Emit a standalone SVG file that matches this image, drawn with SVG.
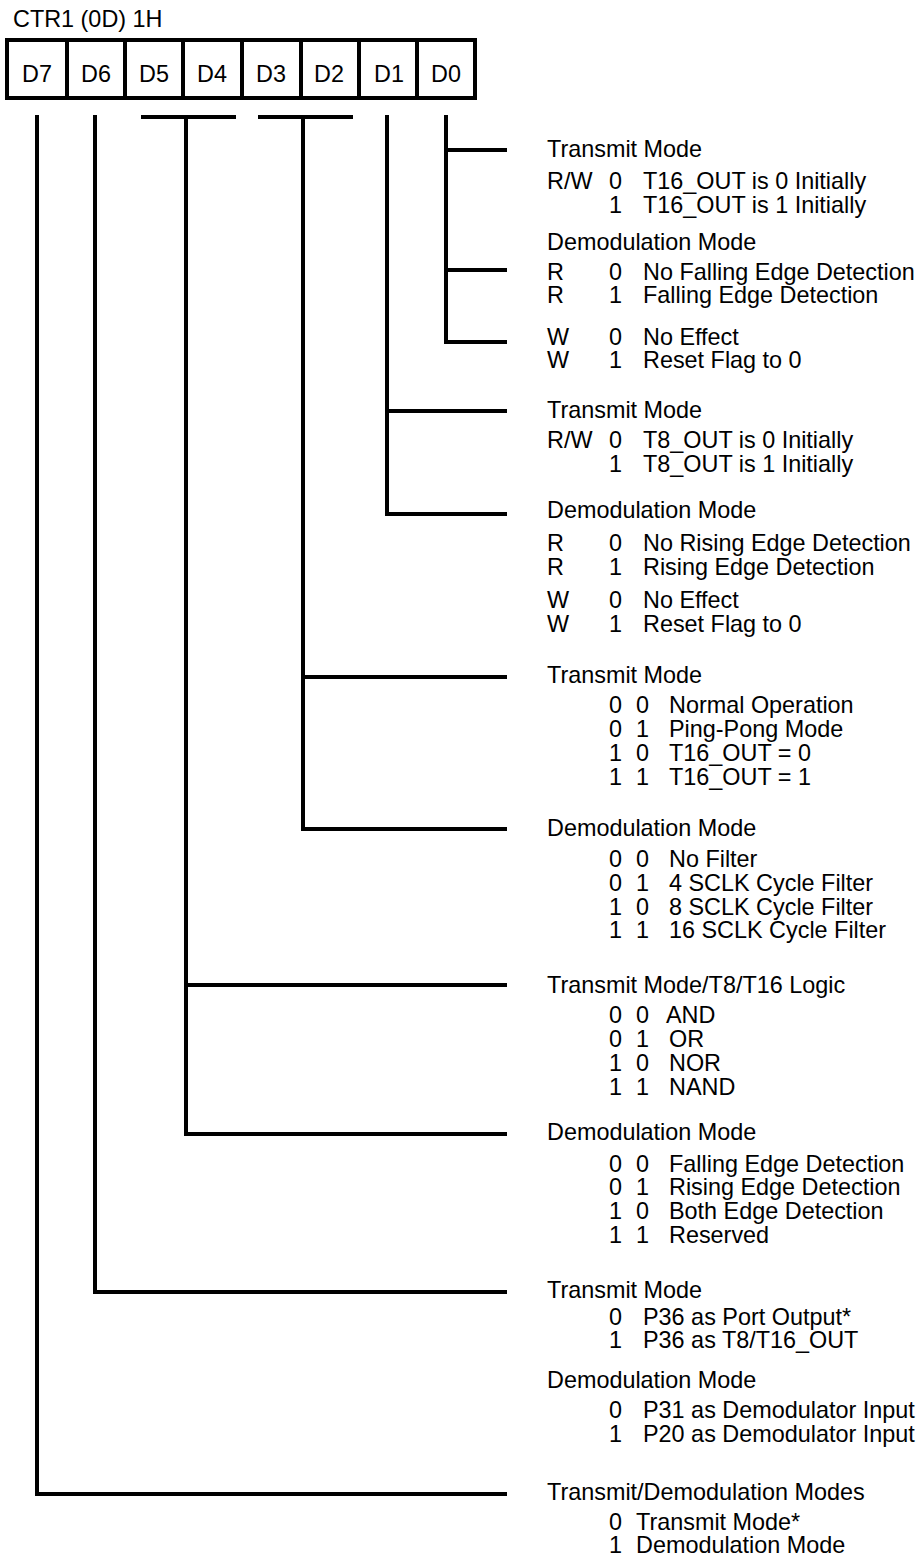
<svg xmlns="http://www.w3.org/2000/svg" width="924" height="1557" viewBox="0 0 924 1557">
<style>
text{font-family:"Liberation Sans",Arial,Helvetica,sans-serif;font-size:23.4px;fill:#000}
.c{text-anchor:middle}
.box{fill:#fff;stroke:#000;stroke-width:4}
.ln{fill:none;stroke:#000;stroke-width:4;stroke-linecap:butt;stroke-linejoin:miter}
</style>
<rect width="924" height="1557" fill="#fff"/>
<g id="title"><text x="13" y="27">CTR1 (0D) 1H</text></g>
<g id="register">
<rect class="box" x="7" y="40" width="468" height="58"/>
<path class="ln" d="M67 40V98M125 40V98M183 40V98M242 40V98M301 40V98M359 40V98M417 40V98"/>
<text class="c" x="37" y="82">D7</text>
<text class="c" x="96" y="82">D6</text>
<text class="c" x="154" y="82">D5</text>
<text class="c" x="212" y="82">D4</text>
<text class="c" x="271" y="82">D3</text>
<text class="c" x="329" y="82">D2</text>
<text class="c" x="389" y="82">D1</text>
<text class="c" x="446" y="82">D0</text>
</g>
<g id="connectors">
<path class="ln" d="M446 115V342H507M446 150H507M446 270H507"/>
<path class="ln" d="M387 115V514H507M387 411H507"/>
<path class="ln" d="M258 117H353M303 117V829H507M303 677H507"/>
<path class="ln" d="M141 117H236M186 117V1134H507M186 985H507"/>
<path class="ln" d="M95 115V1292H507"/>
<path class="ln" d="M37 115V1494H507"/>
</g>
<g id="d0">
<text x="547" y="157">Transmit Mode</text>
<text y="189"><tspan x="547">R/W</tspan><tspan x="609">0</tspan><tspan x="643">T16_OUT is 0 Initially</tspan></text>
<text y="213"><tspan x="609">1</tspan><tspan x="643">T16_OUT is 1 Initially</tspan></text>
<text x="547" y="250">Demodulation Mode</text>
<text y="280"><tspan x="547">R</tspan><tspan x="609">0</tspan><tspan x="643">No Falling Edge Detection</tspan></text>
<text y="303"><tspan x="547">R</tspan><tspan x="609">1</tspan><tspan x="643">Falling Edge Detection</tspan></text>
<text y="345"><tspan x="547">W</tspan><tspan x="609">0</tspan><tspan x="643">No Effect</tspan></text>
<text y="368"><tspan x="547">W</tspan><tspan x="609">1</tspan><tspan x="643">Reset Flag to 0</tspan></text>
</g>
<g id="d1">
<text x="547" y="418">Transmit Mode</text>
<text y="448"><tspan x="547">R/W</tspan><tspan x="609">0</tspan><tspan x="643">T8_OUT is 0 Initially</tspan></text>
<text y="472"><tspan x="609">1</tspan><tspan x="643">T8_OUT is 1 Initially</tspan></text>
<text x="547" y="518">Demodulation Mode</text>
<text y="551"><tspan x="547">R</tspan><tspan x="609">0</tspan><tspan x="643">No Rising Edge Detection</tspan></text>
<text y="575"><tspan x="547">R</tspan><tspan x="609">1</tspan><tspan x="643">Rising Edge Detection</tspan></text>
<text y="608"><tspan x="547">W</tspan><tspan x="609">0</tspan><tspan x="643">No Effect</tspan></text>
<text y="632"><tspan x="547">W</tspan><tspan x="609">1</tspan><tspan x="643">Reset Flag to 0</tspan></text>
</g>
<g id="d3d2">
<text x="547" y="683">Transmit Mode</text>
<text y="713"><tspan x="609">0</tspan><tspan x="636">0</tspan><tspan x="669">Normal Operation</tspan></text>
<text y="737"><tspan x="609">0</tspan><tspan x="636">1</tspan><tspan x="669">Ping-Pong Mode</tspan></text>
<text y="761"><tspan x="609">1</tspan><tspan x="636">0</tspan><tspan x="669">T16_OUT = 0</tspan></text>
<text y="785"><tspan x="609">1</tspan><tspan x="636">1</tspan><tspan x="669">T16_OUT = 1</tspan></text>
<text x="547" y="836">Demodulation Mode</text>
<text y="867"><tspan x="609">0</tspan><tspan x="636">0</tspan><tspan x="669">No Filter</tspan></text>
<text y="891"><tspan x="609">0</tspan><tspan x="636">1</tspan><tspan x="669">4 SCLK Cycle Filter</tspan></text>
<text y="915"><tspan x="609">1</tspan><tspan x="636">0</tspan><tspan x="669">8 SCLK Cycle Filter</tspan></text>
<text y="938"><tspan x="609">1</tspan><tspan x="636">1</tspan><tspan x="669">16 SCLK Cycle Filter</tspan></text>
</g>
<g id="d5d4">
<text x="547" y="993">Transmit Mode/T8/T16 Logic</text>
<text y="1023"><tspan x="609">0</tspan><tspan x="636">0</tspan><tspan x="666">AND</tspan></text>
<text y="1047"><tspan x="609">0</tspan><tspan x="636">1</tspan><tspan x="669">OR</tspan></text>
<text y="1071"><tspan x="609">1</tspan><tspan x="636">0</tspan><tspan x="669">NOR</tspan></text>
<text y="1095"><tspan x="609">1</tspan><tspan x="636">1</tspan><tspan x="669">NAND</tspan></text>
<text x="547" y="1140">Demodulation Mode</text>
<text y="1172"><tspan x="609">0</tspan><tspan x="636">0</tspan><tspan x="669">Falling Edge Detection</tspan></text>
<text y="1195"><tspan x="609">0</tspan><tspan x="636">1</tspan><tspan x="669">Rising Edge Detection</tspan></text>
<text y="1219"><tspan x="609">1</tspan><tspan x="636">0</tspan><tspan x="669">Both Edge Detection</tspan></text>
<text y="1243"><tspan x="609">1</tspan><tspan x="636">1</tspan><tspan x="669">Reserved</tspan></text>
</g>
<g id="d6">
<text x="547" y="1298">Transmit Mode</text>
<text y="1325"><tspan x="609">0</tspan><tspan x="643">P36 as Port Output*</tspan></text>
<text y="1348"><tspan x="609">1</tspan><tspan x="643">P36 as T8/T16_OUT</tspan></text>
<text x="547" y="1388">Demodulation Mode</text>
<text y="1418"><tspan x="609">0</tspan><tspan x="643">P31 as Demodulator Input</tspan></text>
<text y="1442"><tspan x="609">1</tspan><tspan x="643">P20 as Demodulator Input</tspan></text>
</g>
<g id="d7">
<text x="547" y="1500">Transmit/Demodulation Modes</text>
<text y="1530"><tspan x="609">0</tspan><tspan x="636">Transmit Mode*</tspan></text>
<text y="1553"><tspan x="609">1</tspan><tspan x="636">Demodulation Mode</tspan></text>
</g>
</svg>
